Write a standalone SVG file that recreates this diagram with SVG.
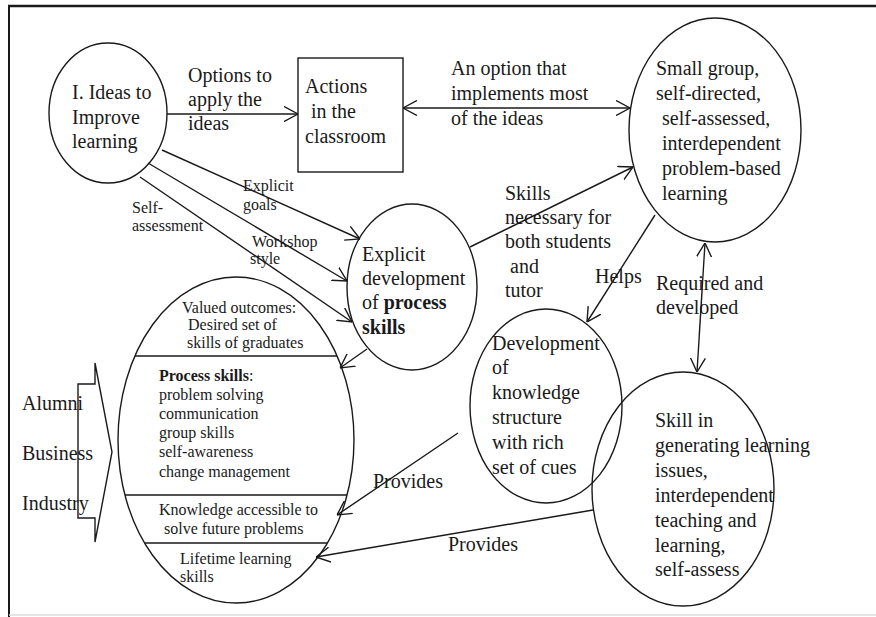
<svg xmlns="http://www.w3.org/2000/svg" width="876" height="617" viewBox="0 0 876 617">
<style>
  .t { font-family: "Liberation Serif", "Times New Roman", serif; font-size: 20px; fill: #1a1a1a; }
  .s { font-family: "Liberation Serif", "Times New Roman", serif; font-size: 16px; fill: #1a1a1a; }
  .b { font-weight: bold; }
  .shape { fill: none; stroke: #1a1a1a; stroke-width: 1.4; }
  .conn { fill: none; stroke: #1a1a1a; stroke-width: 1.4; }
  .head { marker-end: url(#arr); }
  .both { marker-start: url(#arr); marker-end: url(#arr); }
</style>
<defs>
  <marker id="arr" viewBox="0 0 14 16" refX="14" refY="8" markerWidth="14" markerHeight="16" markerUnits="userSpaceOnUse" orient="auto-start-reverse">
    <path d="M0,0.5 L14,8 L0,15.5" fill="none" stroke="#1a1a1a" stroke-width="1.4"/>
  </marker>
</defs>
<rect width="876" height="617" fill="#ffffff"/>
<g id="frame">
  <line x1="8" y1="6" x2="876" y2="6" stroke="#1a1a1a" stroke-width="2.5"/>
  <line x1="9" y1="5" x2="9" y2="617" stroke="#1a1a1a" stroke-width="2"/>
  <line x1="9" y1="615" x2="876" y2="615" stroke="#dddddd" stroke-width="1.5"/>
</g>
<g id="connectors">
  <line class="conn head" x1="167" y1="114" x2="298" y2="114"/>
  <line class="conn both" x1="403" y1="108" x2="630" y2="108"/>
  <line class="conn head" x1="162" y1="150" x2="360" y2="239"/>
  <line class="conn head" x1="148" y1="163" x2="347" y2="281"/>
  <line class="conn head" x1="140" y1="177" x2="352" y2="322"/>
  <line class="conn head" x1="470" y1="247" x2="633" y2="167"/>
  <line class="conn head" x1="655" y1="215" x2="587" y2="322"/>
  <line class="conn both" x1="705" y1="243" x2="697" y2="372"/>
  <line class="conn head" x1="458" y1="433" x2="337" y2="515"/>
  <line class="conn head" x1="593" y1="510" x2="316" y2="557"/>
  <line class="conn head" x1="367" y1="349" x2="340" y2="368"/>
  <g id="connector-labels">
    <text class="t" x="188" y="82">Options to</text>
    <text class="t" x="188" y="106">apply the</text>
    <text class="t" x="188" y="130">ideas</text>
    <text class="t" x="451" y="75">An option that</text>
    <text class="t" x="451" y="100">implements most</text>
    <text class="t" x="451" y="125">of the ideas</text>
    <text class="s" x="243" y="191">Explicit</text>
    <text class="s" x="243" y="210">goals</text>
    <text class="s" x="132" y="213">Self-</text>
    <text class="s" x="132" y="231">assessment</text>
    <text class="s" x="252" y="247">Workshop</text>
    <text class="s" x="250" y="264">style</text>
    <text class="t" x="505" y="200">Skills</text>
    <text class="t" x="505" y="224">necessary for</text>
    <text class="t" x="505" y="248">both students</text>
    <text class="t" x="510" y="273">and</text>
    <text class="t" x="505" y="297">tutor</text>
    <text class="t" x="595" y="283">Helps</text>
    <text class="t" x="656" y="290">Required and</text>
    <text class="t" x="656" y="314">developed</text>
    <text class="t" x="373" y="488">Provides</text>
    <text class="t" x="448" y="551">Provides</text>
  </g>
</g>
<g id="ideas">
  <ellipse class="shape" cx="108" cy="113" rx="59" ry="70"/>
  <text class="t" x="72" y="99">I. Ideas to</text>
  <text class="t" x="72" y="124">Improve</text>
  <text class="t" x="72" y="148">learning</text>
</g>
<g id="actions">
  <rect class="shape" x="298" y="58" width="105" height="114"/>
  <text class="t" x="305" y="93">Actions</text>
  <text class="t" x="311" y="118">in the</text>
  <text class="t" x="305" y="143">classroom</text>
</g>
<g id="pbl">
  <ellipse class="shape" cx="715" cy="130" rx="86" ry="112"/>
  <text class="t" x="656" y="75">Small group,</text>
  <text class="t" x="656" y="100">self-directed,</text>
  <text class="t" x="662" y="125">self-assessed,</text>
  <text class="t" x="662" y="150">interdependent</text>
  <text class="t" x="662" y="175">problem-based</text>
  <text class="t" x="662" y="200">learning</text>
</g>
<g id="explicit">
  <ellipse class="shape" cx="412" cy="287" rx="65" ry="83"/>
  <text class="t" x="362" y="261">Explicit</text>
  <text class="t" x="362" y="285">development</text>
  <text class="t" x="362" y="309">of <tspan class="b">process</tspan></text>
  <text class="t b" x="362" y="334">skills</text>
</g>
<g id="outcomes">
  <ellipse class="shape" cx="236" cy="440" rx="118" ry="163"/>
  <line class="shape" x1="135" y1="356" x2="337" y2="356"/>
  <line class="shape" x1="125" y1="495" x2="347" y2="495"/>
  <line class="shape" x1="145" y1="543" x2="327" y2="543"/>
  <text class="s" x="182" y="313">Valued outcomes:</text>
  <text class="s" x="188" y="330">Desired set of</text>
  <text class="s" x="187" y="348">skills of graduates</text>
  <text class="s" x="159" y="381"><tspan class="b">Process skills</tspan>:</text>
  <text class="s" x="159" y="400">problem solving</text>
  <text class="s" x="159" y="419">communication</text>
  <text class="s" x="159" y="438">group skills</text>
  <text class="s" x="159" y="457">self-awareness</text>
  <text class="s" x="159" y="477">change management</text>
  <text class="s" x="159" y="515">Knowledge accessible to</text>
  <text class="s" x="164" y="534">solve future problems</text>
  <text class="s" x="180" y="564">Lifetime learning</text>
  <text class="s" x="180" y="582">skills</text>
</g>
<g id="stakeholders">
  <polygon class="shape" points="78,384 95,384 95,363 112,452 95,542 95,518 78,518"/>
  <text class="t" x="22" y="410">Alumni</text>
  <text class="t" x="22" y="460">Business</text>
  <text class="t" x="22" y="510">Industry</text>
</g>
<g id="knowledge">
  <ellipse class="shape" cx="546" cy="406" rx="76" ry="97"/>
  <text class="t" x="492" y="350">Development</text>
  <text class="t" x="492" y="374">of</text>
  <text class="t" x="492" y="399">knowledge</text>
  <text class="t" x="492" y="424">structure</text>
  <text class="t" x="492" y="449">with rich</text>
  <text class="t" x="492" y="474">set of cues</text>
</g>
<g id="skill">
  <ellipse class="shape" cx="683" cy="489" rx="91" ry="117"/>
  <text class="t" x="655" y="427">Skill in</text>
  <text class="t" x="655" y="452">generating learning</text>
  <text class="t" x="655" y="477">issues,</text>
  <text class="t" x="655" y="502">interdependent</text>
  <text class="t" x="655" y="527">teaching and</text>
  <text class="t" x="655" y="552">learning,</text>
  <text class="t" x="655" y="576">self-assess</text>
</g>
</svg>
